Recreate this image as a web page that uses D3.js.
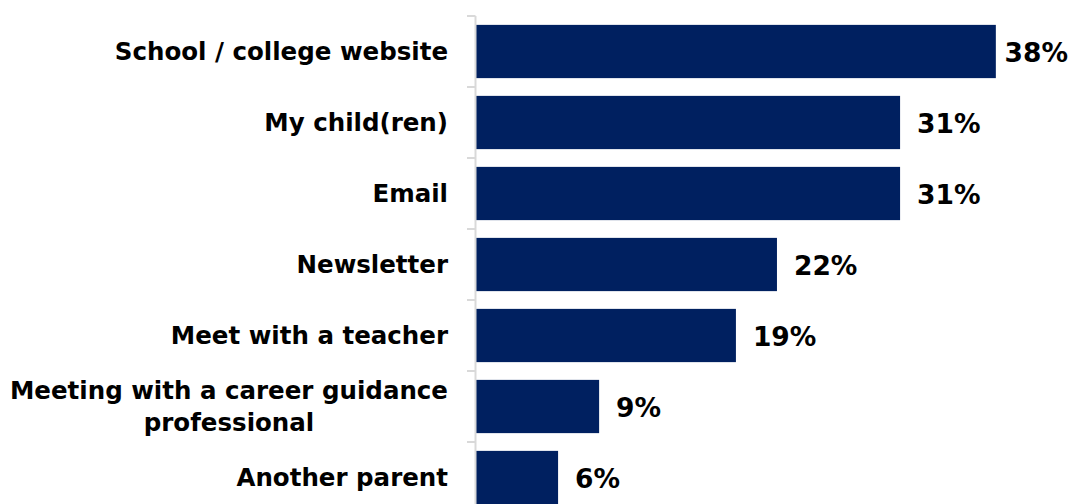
<!DOCTYPE html>
<html><head><meta charset="utf-8">
<script src="https://cdn.jsdelivr.net/npm/d3@7"></script>
<style>
html,body{margin:0;padding:0;background:#fff;}
svg{display:block;}
text{font-family:"Century Gothic","URW Gothic","DejaVu Sans",sans-serif;font-weight:bold;fill:#000;}
</style></head>
<body>
<svg id="chart" width="1071" height="504"></svg>
<script>
const categories = ["School / college website","My child(ren)","Email","Newsletter","Meet with a teacher","Meeting with a career guidance professional","Another parent"];
const labelLines = [["School / college website"],["My child(ren)"],["Email"],["Newsletter"],["Meet with a teacher"],["Meeting with a career guidance","professional"],["Another parent"]];
const values = [38,31,31,22,19,9,6];

const W = 1071, H = 504;
const svg = d3.select("#chart");
const axisX = 476;
const x = d3.scaleLinear().domain([0,40]).range([axisX, axisX + 13.68*40]);
const y = d3.scaleBand().domain(categories).range([16, 16 + 71*7]).paddingInner(0.25).paddingOuter(0.125);

// bars
svg.selectAll("rect.bar").data(values).enter().append("rect")
  .attr("class","bar")
  .attr("x", x(0))
  .attr("y", (d,i)=>y(categories[i]))
  .attr("width", d=>x(d)-x(0))
  .attr("height", y.bandwidth())
  .attr("fill","#002060");

// axis line and ticks at band boundaries
const g = svg.append("g");
g.append("line").attr("x1",axisX-0.5).attr("x2",axisX-0.5).attr("y1",16).attr("y2",H+10)
  .attr("stroke","#d9d9d9").attr("stroke-width",2);
const bounds = d3.range(categories.length+1).map(i=>16 + i*y.step());
g.selectAll("line.tick").data(bounds).enter().append("line")
  .attr("x1",axisX-9).attr("x2",axisX-0.5).attr("y1",d=>d).attr("y2",d=>d)
  .attr("stroke","#d9d9d9").attr("stroke-width",2);

// category labels
const catSize = 24.5;
const lh = 32;
labelLines.forEach((lines,i)=>{
  const cy = y(categories[i]) + y.bandwidth()/2;
  if(lines.length===1){
    svg.append("text").attr("font-size",catSize).attr("text-anchor","end")
      .attr("x",448).attr("y",cy).attr("dy","0.35em").text(lines[0]);
  } else {
    const tmp = svg.append("text").attr("font-size",catSize).text(lines[0]);
    const wmax = d3.max(lines, l=>{tmp.text(l); return tmp.node().getComputedTextLength();});
    tmp.remove();
    const cx = 448 - wmax/2;
    lines.forEach((l,k)=>{
      svg.append("text").attr("font-size",catSize).attr("text-anchor","middle")
        .attr("x",cx).attr("y", cy + (k-(lines.length-1)/2)*lh).attr("dy","0.35em").text(l);
    });
  }
});

// value labels
const valSize = 26.5;
values.forEach((v,i)=>{
  const cy = y(categories[i]) + y.bandwidth()/2;
  const t = svg.append("text").attr("font-size",valSize).attr("y",cy+1).attr("dy","0.35em").text(v+"%");
  const w = t.node().getComputedTextLength();
  t.attr("x", Math.min(x(v)+17, W - 3 - w));
});
</script>
</body></html>
